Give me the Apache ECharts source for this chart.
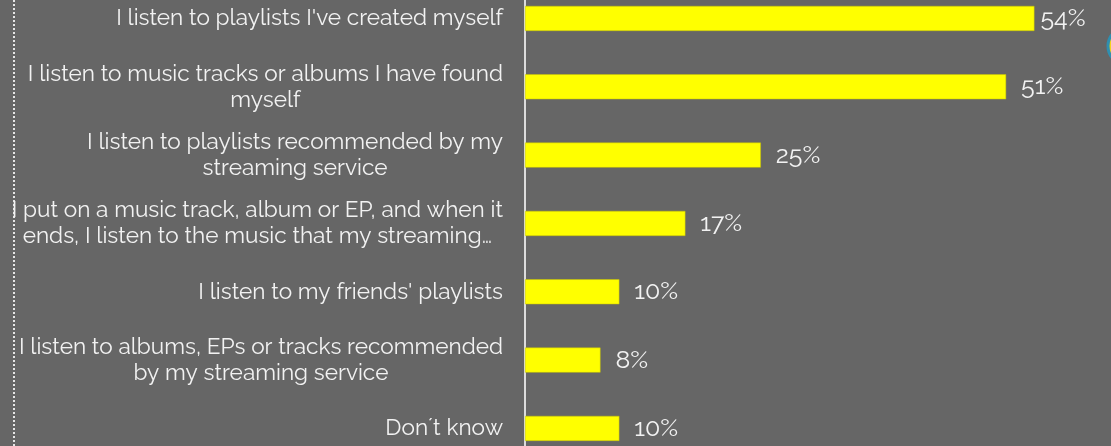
<!DOCTYPE html>
<html>
<head>
<meta charset="utf-8">
<script src="https://cdn.jsdelivr.net/npm/echarts@6/dist/echarts.min.js"></script>
<style>
  html, body { margin: 0; padding: 0; background: #666666; }
  #chart { width: 1111px; height: 446px; }
</style>
</head>
<body>
<div id="chart"></div>
<script>
// Listening habits on streaming services (share of respondents, %)
const categories = [
  "I listen to playlists I've created myself",
  "I listen to music tracks or albums I have found\nmyself",
  "I listen to playlists recommended by my\nstreaming service",
  "I put on a music track, album or EP, and when it\nends, I listen to the music that my streaming…",
  "I listen to my friends' playlists",
  "I listen to albums, EPs or tracks recommended\nby my streaming service",
  "Don´t know"
];
const shares = [54, 51, 25, 17, 10, 8, 10];
const axisMax = 60;

const chart = echarts.init(document.getElementById('chart'));
const font = 'Raleway, Lato, "Open Sans", sans-serif';
const labelColor = '#f2f2f2';

// Each line of a category label is a centred rich fragment, so wrapped lines
// sit centred under each other while the block stays right-aligned to the axis.
const lineStyle = {
  align: 'center',
  color: labelColor,
  fontFamily: font,
  fontSize: 22.6,
  lineHeight: 26
};

const barData = shares.map((v, i) =>
  i === 0 ? { value: v, label: { distance: 6 } } : v
);

chart.setOption({
  backgroundColor: '#666666',
  animation: false,
  grid: {
    left: 525,
    right: 20,
    top: -15.7,
    bottom: -16.6,
    containLabel: false,
    outerBoundsMode: 'none'
  },
  xAxis: {
    type: 'value',
    min: 0,
    max: axisMax,
    show: false
  },
  yAxis: {
    type: 'category',
    data: categories,
    inverse: true,
    axisTick: { show: false },
    axisLine: { show: true, lineStyle: { color: '#dcdcdc', width: 2 } },
    axisLabel: {
      margin: 22,
      color: labelColor,
      fontFamily: font,
      fontSize: 22.6,
      lineHeight: 26,
      align: 'right',
      formatter: (value) => value.split('\n').map((l) => '{c|' + l + '}').join('\n'),
      rich: { c: lineStyle }
    }
  },
  series: [{
    type: 'bar',
    data: barData,
    barWidth: 25,
    itemStyle: { color: '#ffff00', borderColor: '#c8c400', borderWidth: 0.5 },
    label: {
      show: true,
      position: 'right',
      distance: 15,
      formatter: '{c}%',
      color: labelColor,
      fontFamily: font,
      fontSize: 25
    }
  }],
  graphic: [
    {
      type: 'line',
      shape: { x1: 14, y1: 0, x2: 14, y2: 446 },
      style: { stroke: '#e6e6e6', lineWidth: 2, lineDash: [2, 2] },
      silent: true
    },
    {
      type: 'circle',
      shape: { cx: 1127, cy: 46, r: 19 },
      style: { fill: '#f2d21b', stroke: '#2f8fb0', lineWidth: 3 },
      silent: true
    }
  ]
});
</script>
</body>
</html>
